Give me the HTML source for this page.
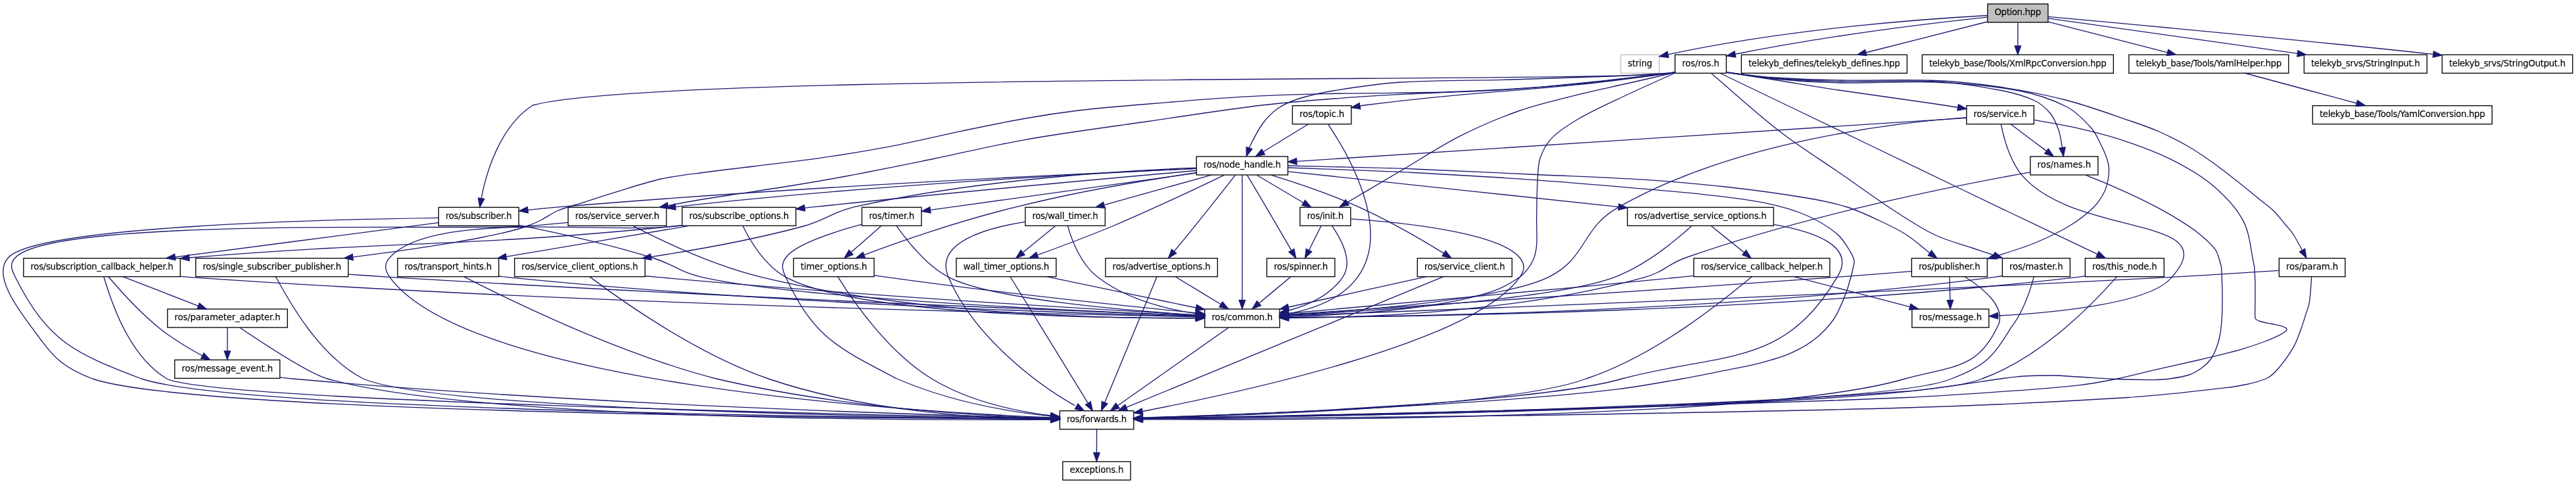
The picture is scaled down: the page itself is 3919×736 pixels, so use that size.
<!DOCTYPE html>
<html><head><meta charset="utf-8"><title>Option.hpp include graph</title>
<style>html,body{margin:0;padding:0;background:#fff}svg{display:block;will-change:transform}text{font-family:"DejaVu Sans","Liberation Sans",sans-serif;font-size:13.33px;fill:#000;text-anchor:middle;stroke:#000;stroke-width:0.12px}.e{fill:none;stroke:#191970;stroke-width:1.33}.a{fill:#191970;stroke:#191970;stroke-width:1.33}.n{fill:#fff;stroke:#000;stroke-width:1.33}</style></head><body>
<svg width="3919" height="736" viewBox="0 0 3919 736">
<rect width="3919" height="736" fill="#fff"/>
<g transform="translate(0.3,0)">
<rect class="n" style="fill:#bfbfbf" x="3023.5" y="6" width="92" height="28"/>
<text x="3069.5" y="23.3" textLength="70.7" lengthAdjust="spacing">Option.hpp</text>
<rect class="n" style="stroke:#bfbfbf" x="2465.5" y="83.3" width="58.5" height="28"/>
<text x="2494.8" y="100.6" textLength="37.2" lengthAdjust="spacing">string</text>
<path class="e" d="M3023.5,23.5C2932.3,28.5 2722.7,43.3 2537.7,82.8"/>
<polygon class="a" points="2536.3,78.3 2524.3,85.7 2538.3,87.4"/>
<rect class="n" x="2548" y="83.3" width="78" height="28"/>
<text x="2587" y="100.6" textLength="56.7" lengthAdjust="spacing">ros/ros.h</text>
<path class="e" d="M3022.9,26.1C2945.3,34.4 2785.3,53.3 2638.9,82.5"/>
<polygon class="a" points="2638.5,77.8 2626.5,85.2 2640.5,87"/>
<rect class="n" x="2649" y="83.3" width="252" height="28"/>
<text x="2775" y="100.6" textLength="230.7" lengthAdjust="spacing">telekyb_defines/telekyb_defines.hpp</text>
<path class="e" d="M3023.2,33C2973.1,45.6 2893.8,65.9 2838.3,80"/>
<polygon class="a" points="2837.1,75.5 2825.4,83.3 2839.4,84.5"/>
<rect class="n" x="2924" y="83.3" width="291" height="28"/>
<text x="3069.5" y="100.6" textLength="269.7" lengthAdjust="spacing">telekyb_base/Tools/XmlRpcConversion.hpp</text>
<path class="e" d="M3069.5,34.3C3069.5,44.1 3069.5,57.7 3069.5,69.7"/>
<polygon class="a" points="3064.8,69.8 3069.5,83.1 3074.2,69.8"/>
<rect class="n" x="3238.5" y="83.3" width="243" height="28"/>
<text x="3360" y="100.6" textLength="221.7" lengthAdjust="spacing">telekyb_base/Tools/YamlHelper.hpp</text>
<path class="e" d="M3115.6,33.2C3164.7,45.8 3242.5,65.8 3297.2,79.9"/>
<polygon class="a" points="3296.1,84.4 3310.2,83.2 3298.4,75.4"/>
<rect class="n" x="3505" y="83.3" width="187" height="28"/>
<text x="3598.5" y="100.6" textLength="165.7" lengthAdjust="spacing">telekyb_srvs/StringInput.h</text>
<path class="e" d="M3115.6,27.8C3199.8,39.7 3380.3,65.2 3495.2,81.4"/>
<polygon class="a" points="3494.4,86 3508.3,83.3 3495.7,76.8"/>
<rect class="n" x="3715" y="83.3" width="198.5" height="28"/>
<text x="3814.2" y="100.6" textLength="177.2" lengthAdjust="spacing">telekyb_srvs/StringOutput.h</text>
<path class="e" d="M3115.7,25.4C3218.5,34.7 3474.1,58 3702.4,82.6"/>
<polygon class="a" points="3701,87.1 3714.8,84 3702.1,77.9"/>
<rect class="n" x="1832.5" y="470" width="114" height="28"/>
<text x="1889.5" y="487.3" textLength="92.7" lengthAdjust="spacing">ros/common.h</text>
<path class="e" d="M2548,111C2522.3,122.7 2496.5,133.9 2471,146 2448,156.9 2424.5,167.3 2402.5,180 2387.8,188.5 2372.7,197.8 2361,209.6 2352.9,217.8 2346.7,229.1 2343,240 2339.3,250.9 2339.5,263.3 2338.8,275 2337.7,293.5 2337.7,312.1 2337.4,330.7 2337.3,337.1 2337.6,343.5 2337.6,350 2337.7,355.5 2337.9,361.1 2337.7,366.6 2337.5,371.5 2337.2,376.5 2336.3,381.3 2335.5,385.9 2334.3,390.6 2332.4,394.8 2330.4,399.4 2327.7,403.9 2324.7,407.9 2320.9,412.8 2317,417.9 2311.9,421.3 2300.6,429 2288.2,436.2 2275.4,441.1 2258.1,447.7 2239.7,452.1 2221.6,456.1 2200.2,460.7 2178.5,464 2156.8,467 2133.8,470.1 2110.6,472.3 2087.5,474.4 2065,476.3 2042.5,477.7 2020,479 2000.2,480.1 1980.4,480.6 1960.6,481.5"/>
<polygon class="a" points="1960,476.8 1946.8,481.9 1960.3,486.1"/>
<rect class="n" x="1820" y="238" width="139" height="28"/>
<text x="1889.5" y="255.3" textLength="117.7" lengthAdjust="spacing">ros/node_handle.h</text>
<path class="e" d="M2547.5,110.5C2515,112.3 2482.5,114.6 2450,116 2400,118.1 2350,119.6 2300,121 2243.7,122.6 2187.2,121.6 2131,125 2097.5,127.1 2064.1,132.2 2031,137.5 2012.5,140.5 1993.8,144.4 1976,150 1964.7,153.6 1953.2,158.4 1943.5,165 1934.9,170.9 1927.3,179.1 1921,187.5 1913.4,197.7 1907.7,209.5 1902,221 1899.4,226.3 1898,232.1 1896,237.7"/>
<polygon class="a" points="1895.8,223.6 1896,237.7 1904.7,226.5"/>
<rect class="n" x="2908" y="392.7" width="115" height="28"/>
<text x="2965.5" y="410" textLength="93.7" lengthAdjust="spacing">ros/publisher.h</text>
<path class="e" d="M2626,110C2650.7,113.3 2675.2,117.7 2700,120 2733.2,123.1 2766.6,125.3 2800,126 2848,127 2896.1,123 2944,125 2985.8,126.8 3028.1,129.8 3069,137.5 3094.7,142.3 3121,150.7 3144,162.5 3158.5,169.9 3170.6,182.8 3181.5,195 3188.1,202.3 3192.1,212 3196.5,221 3200.4,229 3204.4,237.4 3206.5,246 3208.1,252.4 3208.5,259.4 3207.8,266 3206.8,274.4 3205.1,283.4 3201.5,291 3197.2,300 3191.2,309 3184,316 3173.3,326.5 3160.9,335.8 3148,343.5 3130.9,353.8 3112.6,362.5 3094,370 3071.2,379.2 3047.3,385.7 3024,393.5"/>
<polygon class="a" points="3035.2,384.9 3024,393.5 3038.1,393.8"/>
<rect class="n" x="667" y="315.3" width="122" height="28"/>
<text x="728" y="332.6" textLength="100.7" lengthAdjust="spacing">ros/subscriber.h</text>
<path class="e" d="M2547.6,109.9C2543.7,110.7 2539.8,111.5 2535,112 2418.3,124.9 986.5,110.7 810.3,160 760.3,191.9 739.3,262.7 732,301.4"/>
<polygon class="a" points="727.3,301 729.6,315 736.5,302.6"/>
<rect class="n" x="864" y="315.3" width="149.5" height="28"/>
<text x="938.8" y="332.6" textLength="128.2" lengthAdjust="spacing">ros/service_server.h</text>
<path class="e" d="M2547.5,109.6C2546.9,109.8 2546.2,109.9 2545.6,110.1 2544.9,110.2 2544.3,110.4 2543.6,110.5 2542.9,110.6 2542.3,110.8 2541.6,110.9 2540.9,111 2540.2,111.2 2539.5,111.3 2538.8,111.4 2538,111.5 2537.3,111.7 2536.5,111.8 2535.8,111.9 2535,112 2490.6,117.2 2446.2,122.9 2401.6,127.4 2368.5,130.7 2335.2,133.3 2301.9,135.6 2274.5,137.4 2247.1,138.5 2219.7,139.7 2192.9,141 2166.1,141.7 2139.3,143.1 2107.7,144.7 2076.1,146.3 2044.5,148.8 2002.9,152 1961.1,155 1919.6,160 1861.8,166.9 1804.2,176.2 1746.5,184.5 1684.3,193.6 1621.9,201.5 1560,212.3 1513.1,220.5 1466.7,232 1420,241.5 1375.6,250.5 1331.3,259.6 1286.8,268 1257.9,273.4 1229,278.3 1200,283 1170.4,287.8 1140.8,292 1111.2,296.5 1094.1,299.1 1077,301.6 1060,304.5 1045.3,307 1030.7,309.9 1016,312.7"/>
<polygon class="a" points="1014.9,308.1 1002.7,315.3 1016.7,317.3"/>
<rect class="n" x="1977.5" y="315.3" width="77" height="28"/>
<text x="2016" y="332.6" textLength="55.7" lengthAdjust="spacing">ros/init.h</text>
<path class="e" d="M2547.5,110.5C2523.3,116 2499.2,121.5 2475,127 2450.8,132.5 2426.5,137.3 2402.5,143.4 2371.8,151.2 2340.8,158.1 2311,168.5 2279.9,179.4 2249.4,192.5 2220,207.4 2189,223.1 2160,242.7 2130,260.3 2099.3,278.4 2068.7,296.4 2038,314.5"/>
<polygon class="a" points="2047.1,303.7 2038,314.5 2051.9,311.8"/>
<rect class="n" x="297.5" y="392.7" width="232" height="28"/>
<text x="413.5" y="410" textLength="210.7" lengthAdjust="spacing">ros/single_subscriber_publisher.h</text>
<path class="e" d="M2547.5,109.7C2546.9,109.9 2546.3,110 2545.6,110.2 2544.9,110.3 2544.3,110.4 2543.6,110.6 2543,110.7 2542.3,110.8 2541.6,111 2540.9,111.1 2540.2,111.2 2539.5,111.3 2538.8,111.5 2538,111.6 2537.3,111.7 2536.5,111.8 2535.8,111.9 2535,112 2476.1,118.3 2417.4,125.6 2358.4,130.8 2314.9,134.6 2271.3,137.1 2227.7,139 2192.2,140.6 2156.5,140.8 2120.9,141.4 2086,142 2051,141.7 2016,142.6 1974.3,143.6 1932.6,144.7 1890.9,147.2 1835.1,150.5 1779.4,155.4 1723.6,160 1695.7,162.3 1667.8,164.6 1640,168 1613.2,171.3 1586.5,175.3 1560,180 1527.3,185.8 1494.9,192.6 1462.4,199.3 1427.2,206.6 1392.3,215.3 1357,222.1 1322.1,228.8 1286.9,234.5 1251.7,239.7 1216.7,244.8 1181.4,248.6 1146.3,253 1122.9,255.9 1099.4,258.3 1076,261.5 1052.6,264.7 1028.9,266.9 1005.8,272 982.1,277.2 958.9,285.3 935.6,292.4 918,297.7 900.5,303.6 882.9,309.2 871.2,312.9 859.1,315.7 847.8,320.5 839.2,324.2 831.6,330.3 823.2,334.5 816,338.1 808.6,341.4 801.1,344 791.5,347.4 781.6,350.1 771.7,352.5 758.8,355.7 745.8,358.4 732.7,361 717.5,364 702.2,366.7 686.9,369.3 670.4,372.1 653.8,374.6 637.2,377.1 620.2,379.7 603.2,382.1 586.2,384.4 569.8,386.6 553.4,388.7 537,390.9"/>
<polygon class="a" points="535.9,386.3 523.2,392.6 537,395.6"/>
<rect class="n" x="2991.5" y="160.7" width="102.5" height="28"/>
<text x="3042.8" y="178" textLength="81.2" lengthAdjust="spacing">ros/service.h</text>
<path class="e" d="M2626,110C2650.7,113.8 2675.3,117.6 2700,121.5 2733.3,126.8 2766.6,132.5 2800,137.5 2847.9,144.7 2896,151 2944,158 2959.9,160.3 2975.7,163 2991.5,165.5"/>
<polygon class="a" points="2977.6,168 2991.5,165.5 2979.1,158.8"/>
<rect class="n" x="3088.5" y="238" width="103" height="28"/>
<text x="3140" y="255.3" textLength="81.7" lengthAdjust="spacing">ros/names.h</text>
<path class="e" d="M2626,110C2650.7,113 2675.2,117 2700,119 2733.2,121.7 2766.6,123.4 2800,124 2848,124.9 2896.2,121.1 2944,123.8 2977.5,125.6 3011,131.2 3044,137.5 3061,140.8 3078.5,145.3 3094,152.5 3103.5,156.9 3112.3,164.5 3119,172.5 3124.8,179.5 3128.4,188.8 3131.5,197.5 3134.2,205 3135,213.1 3136.5,221 3137.5,226.5 3138.2,232.1 3139,237.7"/>
<polygon class="a" points="3132.5,225.2 3139,237.7 3141.7,223.8"/>
<rect class="n" x="3046" y="392.7" width="103" height="28"/>
<text x="3097.5" y="410" textLength="81.7" lengthAdjust="spacing">ros/master.h</text>
<path class="e" d="M2602.5,111C2637.5,140.7 2671.3,171.9 2707.5,200 2737.1,222.9 2769.2,242.7 2800,264 2827.5,283 2854.5,302.8 2882.5,321 2902.5,334 2922.6,347.3 2944,357.5 2961.8,366 2981.3,370.6 3000,377 3015.3,382.2 3030.7,387.2 3046,392.3"/>
<polygon class="a" points="3031.9,392.5 3046,392.3 3034.8,383.7"/>
<rect class="n" x="3172" y="392.7" width="120" height="28"/>
<text x="3232" y="410" textLength="98.7" lengthAdjust="spacing">ros/this_node.h</text>
<path class="e" d="M2616,111C2692.3,147.7 2768.7,184.3 2845,221 2914.3,254.3 2983.6,287.8 3053,321 3102.9,344.9 3152.8,368.5 3202.8,392.3"/>
<polygon class="a" points="3188.7,390.8 3202.8,392.3 3192.7,382.4"/>
<rect class="n" x="3467" y="392.7" width="100.5" height="28"/>
<text x="3517.2" y="410" textLength="79.2" lengthAdjust="spacing">ros/param.h</text>
<path class="e" d="M2626,110C2650.7,112.7 2675.3,116.3 2700,118 2733.3,120.3 2766.7,121.4 2800,122 2848,122.9 2896.1,120.4 2944,122.5 2977.4,123.9 3010.9,127.5 3044,132.5 3077.6,137.5 3111.2,143.9 3144,152.5 3177.8,161.4 3210.8,173.7 3244,185 3257.5,189.6 3271,194.3 3284,200 3298.3,206.3 3312.4,213.3 3326,221 3338.8,228.3 3351,236.6 3363,245 3375.6,253.9 3387.8,263.5 3400,273 3412.5,282.8 3424.7,293 3437,303 3444,308.7 3451.6,313.7 3458,320 3464.9,326.7 3470.8,334.6 3477,342 3481.1,346.9 3485.6,351.6 3489,357 3496.1,368.4 3502,380.5 3508.5,392.3"/>
<polygon class="a" points="3498.1,382.8 3508.5,392.3 3506.3,378.3"/>
<rect class="n" x="1966" y="160.7" width="89.5" height="28"/>
<text x="2010.8" y="178" textLength="68.2" lengthAdjust="spacing">ros/topic.h</text>
<path class="e" d="M2547.5,109.5C2543.6,110.4 2539.7,111.3 2535,112 2310.7,143.3 2290.4,132.9 2075.6,160 2073,160.3 2070.7,160.7 2068.7,161.1"/>
<polygon class="a" points="2067.7,156.5 2055.5,163.6 2069.5,165.7"/>
<rect class="n" x="1612" y="624.7" width="112.5" height="28"/>
<text x="1668.2" y="642" textLength="91.2" lengthAdjust="spacing">ros/forwards.h</text>
<path class="e" d="M1869,498C1831.3,524.5 1744.1,585.8 1699.1,617.5"/>
<polygon class="a" points="1697.3,613.1 1689.1,624.6 1702.7,620.7"/>
<rect class="n" x="1616.5" y="702" width="103.2" height="28"/>
<text x="1668.1" y="719.3" textLength="81.9" lengthAdjust="spacing">exceptions.h</text>
<path class="e" d="M1668.2,653C1668.2,662.7 1668.2,676.4 1668.1,688.4"/>
<polygon class="a" points="1663.5,688.5 1668.1,701.8 1672.8,688.5"/>
<path class="e" d="M1889.5,266.3C1890.1,302.9 1889.5,407.3 1889.5,456.5"/>
<polygon class="a" points="1884.8,456.5 1889.5,469.8 1894.2,456.5"/>
<path class="e" d="M1959.5,255C1989.7,256.1 2019.8,257.1 2050,258.3 2083.3,259.6 2116.7,260.7 2150,262.5 2212.5,265.9 2275,269.3 2337.5,273.8 2391.7,277.6 2445.9,282.5 2500,287.2 2531,289.9 2562.1,292.3 2593,295.9 2624.1,299.5 2655.4,302.7 2686,308.9 2707.1,313.2 2728.3,319 2748,327.5 2764.3,334.5 2780.3,344.2 2794,355.3 2802,361.7 2807.8,371.2 2813,380 2816.6,386.1 2821.8,393.3 2820.5,400 2815.8,425.2 2806.8,452.4 2795.1,475.9 2788,490 2776.2,502.5 2764.2,512.8 2752.8,522.7 2738.8,530.4 2724.9,536.7 2709.8,543.5 2693.5,547.9 2677.4,552.1 2659.2,556.9 2640.5,559.9 2622,563.7 2601,567.9 2580.1,572.3 2559,576 2526.2,581.7 2493.4,587.8 2460.4,591.9 2414.5,597.5 2368.4,601.5 2322.4,605.2 2269.4,609.6 2216.3,613 2163.2,616.2 2109.1,619.5 2054.9,622.2 2000.8,624.8 1951.6,627.2 1902.4,629.2 1853.2,631.1 1815,632.6 1776.8,633.8 1738.6,635.2"/>
<polygon class="a" points="1738,630.6 1724.8,635.7 1738.3,639.9"/>
<path class="e" d="M1959.5,252C1989.7,252.7 2019.8,253.4 2050,254.2 2083.3,255.1 2116.7,255.7 2150,257 2212.5,259.5 2275,262.6 2337.5,265.5 2391.7,268 2445.9,269.7 2500,273.2 2541.4,275.9 2582.8,279.4 2624,284 2665.4,288.6 2706.9,294.1 2748,301 2768.9,304.5 2789.9,308.7 2810,315 2827.2,320.4 2843.6,328.4 2860,336 2873.6,342.4 2887.4,348.9 2900,357 2912.6,365.1 2923.8,375.6 2935.6,384.8"/>
<polygon class="a" points="2933,388.7 2946.6,392.5 2938.3,381"/>
<path class="e" d="M1819.4,256.3C1652.1,263.7 1215.5,284.4 851.9,314.7 836,316 819,317.6 802.8,319.3"/>
<polygon class="a" points="802.2,314.7 789.4,320.8 803.2,324"/>
<path class="e" d="M1819.7,256.3C1674.8,263 1328.5,281.1 1027.4,314.6"/>
<polygon class="a" points="1026.7,309.9 1013.9,316.1 1027.7,319.2"/>
<rect class="n" x="2156" y="392.7" width="144" height="28"/>
<text x="2228" y="410" textLength="122.7" lengthAdjust="spacing">ros/service_client.h</text>
<path class="e" d="M1933.4,266.1C1969.9,277.3 2022.4,294.8 2066.5,314.7 2113.1,335.6 2164.1,365.5 2196.1,385.1"/>
<polygon class="a" points="2193.9,389.3 2207.7,392.4 2198.9,381.4"/>
<rect class="n" x="1311" y="315.3" width="90.5" height="28"/>
<text x="1356.2" y="332.6" textLength="69.2" lengthAdjust="spacing">ros/timer.h</text>
<path class="e" d="M1819.6,263C1733.7,274.9 1583.5,296 1449.3,314.7 1438.5,316.1 1427.1,317.7 1416.1,319.2"/>
<polygon class="a" points="1414.4,314.8 1401.8,321.2 1415.7,324"/>
<rect class="n" x="1207" y="392.7" width="122.5" height="28"/>
<text x="1268.2" y="410" textLength="101.2" lengthAdjust="spacing">timer_options.h</text>
<path class="e" d="M1819.9,262.7C1750.1,272.9 1640,290.9 1546.1,314.7 1459.5,335.4 1366,368 1313.9,387.9"/>
<polygon class="a" points="1312.5,383.5 1301.7,392.6 1315.9,392.2"/>
<rect class="n" x="1559.5" y="315.3" width="121.5" height="28"/>
<text x="1620.2" y="332.6" textLength="100.2" lengthAdjust="spacing">ros/wall_timer.h</text>
<path class="e" d="M1842.6,266.2C1797.2,278.7 1728.4,298 1679.7,311.6"/>
<polygon class="a" points="1678.1,307.3 1666.5,315.3 1680.6,316.3"/>
<rect class="n" x="1454.5" y="392.7" width="152" height="28"/>
<text x="1530.5" y="410" textLength="130.7" lengthAdjust="spacing">wall_timer_options.h</text>
<path class="e" d="M1862.5,266.1C1824.8,284.2 1754.2,317.7 1692.2,344 1654.4,359.5 1611,375.8 1578.5,387.7"/>
<polygon class="a" points="1576.3,383.5 1565.4,392.5 1579.5,392.3"/>
<rect class="n" x="1681.5" y="392.7" width="170.5" height="28"/>
<text x="1766.8" y="410" textLength="149.2" lengthAdjust="spacing">ros/advertise_options.h</text>
<path class="e" d="M1879,266.3C1858.9,291.9 1813.5,349.2 1786.3,381.7"/>
<polygon class="a" points="1782.2,379.2 1777.2,392.4 1789.3,385.2"/>
<rect class="n" x="2475.5" y="315.3" width="222.5" height="28"/>
<text x="2586.8" y="332.6" textLength="201.2" lengthAdjust="spacing">ros/advertise_service_options.h</text>
<path class="e" d="M1959.1,260.8C2075.9,273.3 2314.5,298.9 2462,314.6"/>
<polygon class="a" points="2461.7,319.3 2475.5,316.1 2462.7,310"/>
<rect class="n" x="1037.5" y="315.3" width="173" height="28"/>
<text x="1124" y="332.6" textLength="151.7" lengthAdjust="spacing">ros/subscribe_options.h</text>
<path class="e" d="M1819.6,259.5C1700.9,270 1449.4,292.6 1238.5,314.7 1233.5,315.2 1228.5,315.8 1223.4,316.4"/>
<polygon class="a" points="1223.3,311.7 1210.6,317.8 1224.4,320.9"/>
<rect class="n" x="782.5" y="392.7" width="198.5" height="28"/>
<text x="881.8" y="410" textLength="177.2" lengthAdjust="spacing">ros/service_client_options.h</text>
<path class="e" d="M1820,255.2C1709.5,259.4 1487.1,272.7 1299.6,314.7 1263.8,323.3 1257.4,334.1 1222,344 1145.9,364.6 1057.6,380.3 990,390.6"/>
<polygon class="a" points="989.3,386 976.8,392.6 990.7,395.3"/>
<rect class="n" x="1927" y="392.7" width="103.5" height="28"/>
<text x="1978.8" y="410" textLength="82.2" lengthAdjust="spacing">ros/spinner.h</text>
<path class="e" d="M1897.1,266.3C1912.4,291.6 1945.5,348.2 1964.4,380.8"/>
<polygon class="a" points="1960.5,383.2 1971.2,392.4 1968.5,378.5"/>
<path class="e" d="M1911.6,266.3C1931.4,277.9 1960.3,295 1982.6,308.2"/>
<polygon class="a" points="1980.4,312.4 1994.3,315.1 1985.2,304.3"/>
<path class="e" d="M2907.6,412.6C2874.6,415.3 2832.3,418.6 2794.7,421.3 2484,443.9 2113.5,468.2 1960.7,478.1"/>
<polygon class="a" points="1960,473.4 1947,478.9 1960.6,482.7"/>
<path class="e" d="M2988.6,420.7C3016,437.6 3055.6,468.7 3037.6,498.7 3007,562.1 2969.1,556.5 2897.7,576 2692.8,637.1 1966.2,638.9 1737.9,637.8"/>
<polygon class="a" points="1737.9,633.2 1724.5,637.8 1737.8,642.5"/>
<rect class="n" x="2908.5" y="470" width="117" height="28"/>
<text x="2967" y="487.3" textLength="95.7" lengthAdjust="spacing">ros/message.h</text>
<path class="e" d="M2965.7,421C2965.9,430.7 2966.2,444.4 2966.5,456.4"/>
<polygon class="a" points="2961.8,456.6 2966.8,469.8 2971.2,456.4"/>
<path class="e" d="M789.2,342.3C843.5,353.1 923.9,370.8 992.3,392 1026.4,402.6 1032.2,413.4 1067,421.3 1210.9,453.8 1647,473.4 1818.8,480.1"/>
<polygon class="a" points="1818.7,484.8 1832.2,480.6 1819,475.4"/>
<path class="e" d="M666.7,331.3C500.6,333.5 53.7,344 12.1,392 -12.4,418.7 27.7,470.7 48.5,498.7 80.1,541.5 90.4,556.7 140.4,576 294.9,628.3 1319.8,636 1598.3,637.1"/>
<polygon class="a" points="1598.4,641.8 1611.8,637.2 1598.5,632.5"/>
<rect class="n" x="35.5" y="392.7" width="238.5" height="28"/>
<text x="154.8" y="410" textLength="217.2" lengthAdjust="spacing">ros/subscription_callback_helper.h</text>
<path class="e" d="M666.7,338.7C570.9,351.1 384.8,375.3 266.2,390.9"/>
<polygon class="a" points="265.4,386.3 252.7,392.6 266.6,395.5"/>
<path class="e" d="M274.1,420.4C278.1,420.7 282.1,421 286.1,421.3 879.6,462.5 1594.4,477.6 1818.7,481.5"/>
<polygon class="a" points="1818.8,486.2 1832.2,481.8 1818.9,476.9"/>
<path class="e" d="M157.5,420.7C167.4,453.4 194,540.7 253.7,576 324.9,610.1 1323.2,630.9 1598,636.1"/>
<polygon class="a" points="1598.2,640.8 1611.7,636.3 1598.4,631.4"/>
<rect class="n" x="254.5" y="470" width="182.5" height="28"/>
<text x="345.8" y="487.3" textLength="161.2" lengthAdjust="spacing">ros/parameter_adapter.h</text>
<path class="e" d="M187,420.8C218.5,433 266.1,451.5 301,465.1"/>
<polygon class="a" points="299.8,469.6 313.9,470 303.1,460.9"/>
<rect class="n" x="265.5" y="547.3" width="160" height="28"/>
<text x="345.5" y="564.6" textLength="138.7" lengthAdjust="spacing">ros/message_event.h</text>
<path class="e" d="M164.6,420.8C180.5,439.5 211.8,474.4 241.8,498.7 262,515 287,529.9 307.3,541"/>
<polygon class="a" points="305.4,545.2 319.4,547.3 309.8,537"/>
<path class="e" d="M364.7,498.3C398.7,521.2 469.4,567.5 497.7,576 721,638 1381.3,639.3 1598.2,638"/>
<polygon class="a" points="1598.6,642.6 1611.9,637.9 1598.5,633.3"/>
<path class="e" d="M345.7,498.3C345.7,508.1 345.6,521.7 345.6,533.7"/>
<polygon class="a" points="340.9,533.8 345.5,547.1 350.2,533.8"/>
<path class="e" d="M425.7,573.9C432.4,574.7 439,575.4 445.7,576 890.8,615.5 1412.3,631.1 1597.7,635.7"/>
<polygon class="a" points="1598.1,640.4 1611.5,636.1 1598.3,631.1"/>
<path class="e" d="M962.9,343.6C1002.4,364 1083.8,403.4 1157.7,421.3 1396.7,479 1687.5,484.7 1819,483.9"/>
<polygon class="a" points="1819.1,488.6 1832.4,483.8 1819,479.3"/>
<path class="e" d="M863.9,338.4C843.5,340.4 821.4,342.4 801.1,344 714.9,350.9 79.9,328.6 22.8,392 13.9,401.5 17.2,409.6 22.9,421.3 72.2,519.5 113.4,537.3 215,576 362.6,624.7 1328.6,635 1598.3,636.9"/>
<polygon class="a" points="1598.3,641.6 1611.7,637 1598.4,632.3"/>
<path class="e" d="M2170.2,420.7C2111.9,433.6 2022.2,453.3 1960,467"/>
<polygon class="a" points="1958.8,462.5 1946.8,470 1960.8,471.6"/>
<path class="e" d="M2195.3,420.8C2101.4,459.5 1820.7,575.2 1712.9,619.7"/>
<polygon class="a" points="1711.4,615.2 1700.9,624.6 1715,623.8"/>
<path class="e" d="M1363.8,343.8C1378.4,364.2 1408.2,403.1 1442.6,421.3 1507.5,455.1 1710.4,472 1819.1,478.9"/>
<polygon class="a" points="1818.9,483.5 1832.5,479.7 1819.5,474.2"/>
<path class="e" d="M1310.8,341.2C1269.1,352.5 1209,371.6 1195,392 1187.5,402.7 1189.8,409.4 1195,421.3 1237.9,513.3 1274.4,529.3 1364.4,576 1446.3,611.5 1538.3,626.5 1598.1,632.8"/>
<polygon class="a" points="1597.9,637.4 1611.6,634.1 1598.8,628.1"/>
<path class="e" d="M1340,343.7C1327.3,354.8 1308.9,371.1 1294,384.1"/>
<polygon class="a" points="1291.4,380.2 1284.3,392.5 1297.4,387.3"/>
<path class="e" d="M1329.7,418.6C1335.9,419.6 1342.1,420.5 1348.1,421.3 1517,444.9 1715.9,465.6 1819.1,475.8"/>
<polygon class="a" points="1818.7,480.5 1832.4,477.2 1819.6,471.2"/>
<path class="e" d="M1274.4,420.9C1294,452.6 1349.2,534.8 1417.2,576 1473.6,610.2 1545.5,625.3 1598,632"/>
<polygon class="a" points="1597.7,636.7 1611.5,633.6 1598.8,627.4"/>
<path class="e" d="M1624.2,343.9C1629.7,363.8 1643.3,401.1 1669.5,421.3 1712.8,454.6 1772.5,469.8 1818.8,476.8"/>
<polygon class="a" points="1818.2,481.4 1832.1,478.6 1819.5,472.2"/>
<path class="e" d="M1559.2,337.4C1498,347 1420.4,369.6 1442.6,421.3 1479.7,509.1 1574,582.5 1634.8,616.7"/>
<polygon class="a" points="1635.1,622.1 1649,624.5 1639.6,614"/>
<path class="e" d="M1605.1,343.7C1591.6,354.7 1572,370.7 1556.1,383.7"/>
<polygon class="a" points="1552.8,380.4 1545.4,392.5 1558.7,387.6"/>
<path class="e" d="M1591.8,420.7C1655.2,433.8 1753.2,454.2 1819.2,468"/>
<polygon class="a" points="1818.4,472.6 1832.4,470.7 1820.3,463.4"/>
<path class="e" d="M1536.8,421C1559.5,457.9 1624.6,563.8 1654.5,612.4"/>
<polygon class="a" points="1651,615.6 1661.9,624.5 1658.9,610.7"/>
<path class="e" d="M1788.1,421C1807,432.5 1834.9,449.3 1856.6,462.5"/>
<polygon class="a" points="1854.7,466.9 1868.5,469.8 1859.5,458.9"/>
<path class="e" d="M1759.7,421C1744.4,457.9 1700.4,563.8 1680.2,612.4"/>
<polygon class="a" points="1676,610.4 1675.2,624.5 1684.6,614"/>
<path class="e" d="M2573.4,343.6C2550.7,364.1 2503.7,403.5 2456.5,421.3 2367.2,454.9 2091.5,472.7 1960.3,479.4"/>
<polygon class="a" points="1960,474.8 1946.9,480.1 1960.4,484.1"/>
<path class="e" d="M2698.2,341.4C2762.3,352.6 2824.3,375.4 2794.7,421.3 2713.2,559.4 2623.7,534.9 2467,576 2341.5,612.5 1910.1,629.8 1738.7,635.3"/>
<polygon class="a" points="1738,630.6 1724.8,635.7 1738.3,640"/>
<rect class="n" x="2576.5" y="392.7" width="207" height="28"/>
<text x="2680" y="410" textLength="185.7" lengthAdjust="spacing">ros/service_callback_helper.h</text>
<path class="e" d="M2603.2,343.7C2617,354.8 2637.1,371.1 2653.3,384.1"/>
<polygon class="a" points="2650.4,387.7 2663.7,392.5 2656.2,380.5"/>
<path class="e" d="M2576.1,419.4C2569.7,420.1 2563.4,420.7 2557.3,421.3 2340.4,443.1 2082.6,465.9 1960.5,476.5"/>
<polygon class="a" points="1959.8,471.9 1946.9,477.7 1960.6,481.2"/>
<path class="e" d="M2664.6,421.1C2624.7,454.1 2520.2,540.5 2412.4,576 2301.6,617.7 1901.5,631.8 1738.2,635.9"/>
<polygon class="a" points="1737.8,631.2 1724.6,636.2 1738,640.5"/>
<path class="e" d="M2729.6,420.8C2778.4,433.5 2852.7,453 2905.4,466.7"/>
<polygon class="a" points="2904.2,471.2 2918.3,470 2906.5,462.1"/>
<path class="e" d="M1130,344C1140.1,364.6 1162.7,403.8 1195,421.3 1303.2,479.1 1664.4,484.1 1818.8,483.5"/>
<polygon class="a" points="1818.8,488.1 1832.2,483.4 1818.8,478.8"/>
<path class="e" d="M1037,342.6C1033.1,343.1 1029.3,343.5 1025.5,344 929,355.8 655.8,319.6 592.4,392 583.7,401.7 585,410.6 592.5,421.3 712.2,585.1 1381.7,625.9 1598.3,635"/>
<polygon class="a" points="1598.4,639.6 1611.9,635.5 1598.8,630.3"/>
<path class="e" d="M1037,342.8C1033.1,343.2 1029.3,343.6 1025.5,344 702.1,376.4 616.3,365.1 286.8,392"/>
<polygon class="a" points="287,387.3 274.1,393.1 287.8,396.6"/>
<rect class="n" x="604.5" y="392.7" width="154" height="28"/>
<text x="681.5" y="410" textLength="132.7" lengthAdjust="spacing">ros/transport_hints.h</text>
<path class="e" d="M1048.3,343.4C970.9,356.4 850.9,376.6 769.6,390.4"/>
<polygon class="a" points="769,385.8 756.7,392.6 770.6,395"/>
<path class="e" d="M758.6,420C762.5,420.5 766.4,420.9 770.2,421.3 1166.5,461.5 1641.1,476.6 1818.2,481.1"/>
<polygon class="a" points="1818.5,485.7 1832,481.4 1818.8,476.4"/>
<path class="e" d="M705.2,420.7C768.1,452.8 938.3,537.2 1089.7,576 1279.7,620.3 1491.3,632.6 1598.2,636"/>
<polygon class="a" points="1598.5,640.7 1611.9,636.4 1598.8,631.4"/>
<path class="e" d="M981.5,419.7C987.4,420.2 993.3,420.8 999,421.3 1304.8,449.1 1668.6,470.5 1819,478.9"/>
<polygon class="a" points="1818.9,483.5 1832.4,479.6 1819.4,474.2"/>
<path class="e" d="M896.9,420.9C939.7,453.2 1058.1,538.2 1168.9,576 1318.7,627.1 1500.7,636.8 1598.2,638"/>
<polygon class="a" points="1598.6,642.6 1612,638.1 1598.7,633.3"/>
<path class="e" d="M1963.3,421C1950,432 1930.8,448.1 1915.3,461"/>
<polygon class="a" points="1912,457.7 1904.8,469.8 1918,464.8"/>
<path class="e" d="M2026,343.4C2039.2,362 2059.1,396.9 2042.5,421.3 2023.7,449 1990.3,464.1 1959.5,472.5"/>
<polygon class="a" points="1958.4,468 1946.5,475.7 1960.6,477"/>
<path class="e" d="M2055,332.8C2127.9,337.8 2280,352.7 2311.9,392 2320.1,402.1 2319.5,410.7 2311.9,421.3 2242.7,521.1 1883.5,597.3 1738.2,625.5"/>
<polygon class="a" points="1736.9,621 1724.6,627.9 1738.5,630.2"/>
<path class="e" d="M2009.5,343.7C2004.5,353.7 1997.4,368 1991.3,380.2"/>
<polygon class="a" points="1986.9,378.5 1985.1,392.5 1995.3,382.6"/>
<path class="e" d="M529.8,417.1C550.6,418.6 572.2,420.1 592.5,421.3 1060.9,449.9 1623.7,472.5 1818.8,480"/>
<polygon class="a" points="1818.7,484.7 1832.2,480.5 1819.1,475.3"/>
<path class="e" d="M419.1,420.7C437,453.4 483.7,540.7 552.4,576 662.2,622.8 1371,634.2 1598.1,636.7"/>
<polygon class="a" points="1598.4,641.4 1611.7,636.9 1598.5,632"/>
<path class="e" d="M2991.5,178.7C2886,186.3 2639.4,214.3 2462.8,314.7 2404.2,347.3 2415.5,391.7 2355.7,421.3 2287.4,454.9 2073.1,472 1960.3,478.9"/>
<polygon class="a" points="1959.8,474.3 1946.8,479.7 1960.4,483.6"/>
<path class="e" d="M3094.2,182.4C3114.8,186.3 3135.7,189.2 3156.1,193.9 3180.5,199.5 3205.1,205.5 3228.9,213.3 3253.9,221.6 3279.1,230.6 3302.6,242.4 3325.3,253.8 3348.2,266.6 3367.3,282.9 3384.9,298 3402.5,316.3 3412.9,336.6 3423.2,357.1 3423.9,382.4 3429.4,405.3 3429.4,405.5 3429.4,405.6 3429.4,405.7 3429.4,406.6 3429.5,407.4 3429.5,408.3 3429.6,410.6 3429.8,413 3429.9,415.3 3430.1,419.9 3430.5,424.5 3430.6,429 3430.7,442.7 3430.5,456.3 3430.5,470 3430.5,474.2 3430.1,478.6 3430.5,482.7 3430.6,483.8 3431.1,485.2 3432,485.8 3434,487.3 3436.7,488.3 3439.2,489 3444.6,490.5 3450.3,491.3 3455.8,492.5 3460.6,493.5 3465.5,494.2 3470.2,495.6 3472.7,496.4 3475.5,497.4 3477.5,498.9 3478.3,499.5 3478.8,501 3478.5,501.8 3478.1,503 3476.6,504.2 3475.4,505 3471.8,507.4 3467.9,509.5 3464,511.3 3457.3,514.5 3450.4,517.4 3443.4,520 3433.2,523.8 3422.8,527.2 3412.4,530.3 3402.1,533.4 3391.7,536 3381.3,538.6 3367.6,542.1 3353.8,545.3 3340,548.5 3318,553.6 3296,558.4 3274,563.4 3255.3,567.7 3236.8,572.7 3218,576.5 3199.5,580.2 3180.8,583.7 3162,585.8 3124.7,589.9 3087.1,592.5 3049.6,595.2 2999.8,598.8 2949.9,602.3 2900,604.5 2781.5,609.7 2662.9,613.4 2544.4,617.2 2437.7,620.6 2331,623.4 2224.2,626 2129.3,628.4 2034.4,630.4 1939.5,632.4 1872.4,633.8 1805.3,634.9 1738.2,636.2"/>
<polygon class="a" points="1738,631.5 1724.7,636.4 1738.2,640.9"/>
<path class="e" d="M2991.4,179.3C2810.7,191 2197.4,230.8 1972.7,245.3"/>
<polygon class="a" points="1972.1,240.7 1959.1,246.2 1972.7,250"/>
<path class="e" d="M3044,189.2C3047.8,208.2 3057,243.7 3075.9,266.7 3157,361.3 3388.2,327 3303.9,421.3 3272.9,461.3 3128.6,475.3 3039.1,480.1"/>
<polygon class="a" points="3038.9,475.5 3025.8,480.8 3039.3,484.8"/>
<path class="e" d="M3059,189C3073.8,200.1 3095.3,216.4 3112.7,229.4"/>
<polygon class="a" points="3110.4,233.5 3123.9,237.8 3116,226.1"/>
<path class="e" d="M3088.5,261.9C2987.6,279.7 2754.7,324.9 2563.9,392 2535.6,402.1 2531.8,413.2 2502.9,421.3 2311.8,474.9 2076,483 1960.2,483.5"/>
<polygon class="a" points="1960.1,478.8 1946.7,483.5 1960.1,488.1"/>
<path class="e" d="M3172.7,266.1C3185.7,271.5 3198.9,276.6 3211.9,282.3 3227.2,289 3242.5,295.8 3257.4,303.2 3272.9,310.9 3288.3,318.7 3303.1,327.4 3316.7,335.5 3330.4,343.8 3342.8,353.5 3352.7,361.3 3363.1,369.8 3370.2,379.9 3375.2,387.1 3376.2,396.9 3379.2,405.3 3379.2,405.4 3379.2,405.6 3379.2,405.7 3379.2,406.6 3379.3,407.4 3379.3,408.3 3379.4,410.6 3379.5,413 3379.6,415.3 3379.9,423.6 3380.4,431.8 3380.5,440 3380.7,450 3380.7,460 3380.5,470 3380.4,476.7 3380.1,483.4 3379.5,490 3378.9,496.7 3378.3,503.4 3377,510 3375.8,516.1 3374.2,522.2 3372,528 3369.8,533.8 3367.6,540 3364,545 3360.2,550.3 3355.3,555.1 3350,559 3343.9,563.5 3337.1,567.6 3330,570 3320.5,573.2 3310.1,574.6 3300,576 3291.4,577.2 3282.7,577.5 3274,577.6 3255.3,577.7 3236.7,577.3 3218,576.5 3198.7,575.7 3179.3,574.1 3160,573 3148,572.3 3136,571 3124,571 3105.3,571 3086.6,570.9 3068,572.8 3036.9,575.9 3006,581.9 2975,586 2950,589.3 2925.1,593.1 2900,595 2822.1,600.9 2744,605.4 2666,609.4 2577.9,613.9 2489.8,617.4 2401.6,620.5 2313.5,623.7 2225.4,626.1 2137.2,628.4 2059.9,630.5 1982.6,632 1905.2,633.6 1849.6,634.7 1793.9,635.5 1738.2,636.4"/>
<polygon class="a" points="1738.1,631.7 1724.8,636.6 1738.2,641.1"/>
<path class="e" d="M3045.8,419.5C3041.9,420.2 3038,420.8 3034.2,421.3 2630.7,474 2140.5,481.7 1960.2,482.6"/>
<polygon class="a" points="1960.1,477.9 1946.8,482.7 1960.1,487.3"/>
<path class="e" d="M3094,420.8C3089,439.3 3077.8,474.2 3058.9,498.7 3031.9,542.7 3020.4,556.6 2968.4,576 2869.1,619.6 1993.6,633.4 1738.1,636.6"/>
<polygon class="a" points="1737.9,631.9 1724.6,636.7 1738,641.2"/>
<path class="e" d="M3172,419.7C3168.2,420.3 3164.5,420.9 3160.8,421.3 2706.9,474.3 2154.2,481.7 1960.5,482.6"/>
<polygon class="a" points="1959.9,477.9 1946.6,482.7 1960,487.3"/>
<path class="e" d="M3220.2,420.9C3190.9,454 3109.5,542.2 3015,576 2910.4,619.4 1998.9,633.4 1737.9,636.6"/>
<polygon class="a" points="1737.8,631.9 1724.6,636.7 1737.9,641.3"/>
<path class="e" d="M3466.7,411.4C3423.6,414.3 3359.7,418.4 3303.9,421.3 2790.4,448.6 2167.6,472.4 1960.3,480.1"/>
<polygon class="a" points="1959.8,475.4 1946.7,480.6 1960.2,484.7"/>
<path class="e" d="M3516.4,421C3515.3,434 3515.1,447.2 3513,460 3511.9,466.8 3509.1,473.4 3507,480 3504.8,487.1 3502.6,494.3 3500,501.3 3496.6,510.4 3493.6,519.8 3488.8,528.2 3482.3,539.4 3474.5,550.1 3466.1,560 3461.4,565.5 3456,571.2 3449.7,574.5 3440.7,579.2 3430.1,581.6 3420,584 3408.9,586.6 3397.4,588.3 3386,589.6 3336.3,595.2 3286.5,601.4 3236.6,604.5 3124.5,611.5 3012.3,616.7 2900,620 2705.8,625.8 2511.6,628.5 2317.3,631.8 2203.2,633.7 2089.1,634.5 1975,635.5 1896.1,636.3 1817.3,636.6 1738.4,637.1"/>
<polygon class="a" points="1738,632.4 1724.7,637.1 1738,641.7"/>
<path class="e" d="M2020.3,189.2C2046.6,228.4 2119.3,346.7 2065.2,421.3 2041,454.5 1997.8,469.9 1960.3,476.9"/>
<polygon class="a" points="1959.2,472.4 1946.8,479.2 1960.7,481.6"/>
<path class="e" d="M1989.8,189C1971.1,200.5 1943.6,217.3 1922.1,230.5"/>
<polygon class="a" points="1919.1,226.9 1910.2,237.8 1924,234.8"/>
<rect class="n" x="3518" y="160.7" width="273" height="28"/>
<text x="3654.5" y="178" textLength="251.7" lengthAdjust="spacing">telekyb_base/Tools/YamlConversion.hpp</text>
<path class="e" d="M3414,111C3475.3,127.5 3536.7,144 3598,160.5"/>
<polygon class="a" points="3583.9,161.5 3598,160.5 3586.3,152.5"/>
</g></svg></body></html>
